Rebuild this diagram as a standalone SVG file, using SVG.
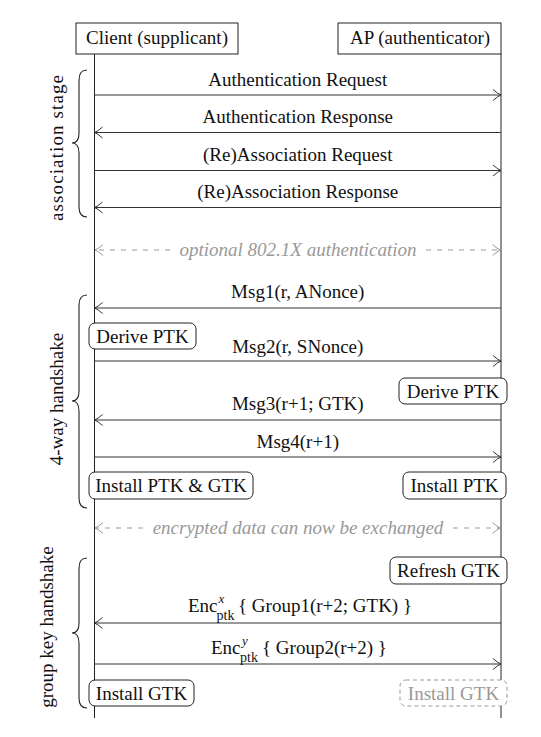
<svg xmlns="http://www.w3.org/2000/svg" width="541" height="737" viewBox="0 0 541 737">
<style>
text{font-family:"Liberation Serif","Times New Roman",serif;font-size:19px;fill:#111}
.lbl{text-anchor:middle}
.life{stroke:#222;stroke-width:1;fill:none}
.msg{stroke:#333;stroke-width:1;fill:none}
.dash{stroke:#999;stroke-width:1;fill:none;stroke-dasharray:5 6}
.box{fill:#fff;stroke:#222;stroke-width:1}
.gbox{fill:#fff;stroke:#999;stroke-width:1;stroke-dasharray:4 3}
.gray{fill:#999}
.it{font-style:italic}
.brace{stroke:#222;stroke-width:1.1;fill:none}
</style>
<defs>
<marker id="ah" markerUnits="userSpaceOnUse" markerWidth="12" markerHeight="14" viewBox="-10 -7 12 14" refX="0" refY="0" orient="auto" overflow="visible">
<path d="M-8,-5.5 Q-3,-1 0,0 Q-3,1 -8,5.5" fill="none" stroke="#333" stroke-width="1"/>
</marker>
<marker id="gah" markerUnits="userSpaceOnUse" markerWidth="12" markerHeight="14" viewBox="-10 -7 12 14" refX="0" refY="0" orient="auto" overflow="visible">
<path d="M-8,-5.5 Q-3,-1 0,0 Q-3,1 -8,5.5" fill="none" stroke="#999" stroke-width="1"/>
</marker>
</defs>
<rect width="541" height="737" fill="#fff"/>

<g id="lifelines">
<line class="life" x1="94.5" y1="54" x2="94.5" y2="718"/>
<line class="life" x1="501" y1="54" x2="501" y2="718"/>
</g>

<g id="client">
<rect class="box" x="76" y="23" width="162" height="31"/>
<text class="lbl" x="157" y="44">Client (supplicant)</text>
</g>
<g id="ap">
<rect class="box" x="338" y="23" width="163" height="31"/>
<text class="lbl" x="420" y="44">AP (authenticator)</text>
</g>

<g id="stages">
<path class="brace" d="M87,70 Q79,70 79,80 L79,133 Q79,143 72,143 Q79,143 79,153 L79,207 Q79,217 87,217"/>
<text class="lbl" transform="translate(63,148) rotate(-90)" textLength="146" lengthAdjust="spacing">association stage</text>
<path class="brace" d="M87,295 Q79,295 79,305 L79,391 Q79,401 72,401 Q79,401 79,411 L79,498 Q79,508 87,508"/>
<text class="lbl" transform="translate(63,399) rotate(-90)">4-way handshake</text>
<path class="brace" d="M87,558 Q79,558 79,568 L79,623 Q79,633 72,633 Q79,633 79,643 L79,698 Q79,708 87,708"/>
<text class="lbl" transform="translate(53,627) rotate(-90)">group key handshake</text>
</g>

<g id="connectors">
<line class="msg" x1="94.5" y1="95" x2="501" y2="95" marker-end="url(#ah)"/>
<text class="lbl" x="297.75" y="86">Authentication Request</text>
<line class="msg" x1="501" y1="132.5" x2="94.5" y2="132.5" marker-end="url(#ah)"/>
<text class="lbl" x="297.75" y="123">Authentication Response</text>
<line class="msg" x1="94.5" y1="170.5" x2="501" y2="170.5" marker-end="url(#ah)"/>
<text class="lbl" x="297.75" y="161">(Re)Association Request</text>
<line class="msg" x1="501" y1="207.5" x2="94.5" y2="207.5" marker-end="url(#ah)"/>
<text class="lbl" x="297.75" y="198">(Re)Association Response</text>

<line class="dash" x1="170" y1="250" x2="95" y2="250" marker-end="url(#gah)"/>
<line class="dash" x1="426" y1="250" x2="500.5" y2="250" marker-end="url(#gah)"/>
<text class="lbl it gray" x="298" y="256">optional 802.1X authentication</text>

<line class="msg" x1="501" y1="308" x2="94.5" y2="308" marker-end="url(#ah)"/>
<text class="lbl" x="297.75" y="298">Msg1(r, ANonce)</text>
<line class="msg" x1="94.5" y1="361" x2="501" y2="361" marker-end="url(#ah)"/>
<text class="lbl" x="297.75" y="353">Msg2(r, SNonce)</text>
<line class="msg" x1="501" y1="420" x2="94.5" y2="420" marker-end="url(#ah)"/>
<text class="lbl" x="297.75" y="410">Msg3(r+1; GTK)</text>
<line class="msg" x1="94.5" y1="457" x2="501" y2="457" marker-end="url(#ah)"/>
<text class="lbl" x="297.75" y="448">Msg4(r+1)</text>

<line class="dash" x1="143" y1="528" x2="95" y2="528" marker-end="url(#gah)"/>
<line class="dash" x1="453" y1="528" x2="500.5" y2="528" marker-end="url(#gah)"/>
<text class="lbl it gray" x="298" y="534">encrypted data can now be exchanged</text>

<line class="msg" x1="501" y1="623" x2="94.5" y2="623" marker-end="url(#ah)"/>
<text x="188" y="612">Enc<tspan class="it" x="218.5" y="603" font-size="13">x</tspan><tspan x="216.5" y="619.5" font-size="14">ptk</tspan><tspan x="238" y="612">{ Group1(r+2; GTK) }</tspan></text>
<line class="msg" x1="94.5" y1="664" x2="501" y2="664" marker-end="url(#ah)"/>
<text x="211" y="654">Enc<tspan class="it" x="242" y="645" font-size="13">y</tspan><tspan x="240" y="661.5" font-size="14">ptk</tspan><tspan x="262" y="654">{ Group2(r+2) }</tspan></text>
</g>

<g id="derive-client">
<rect class="box" x="89" y="323" width="107" height="26" rx="6"/>
<text class="lbl" x="142.5" y="343">Derive PTK</text>
</g>
<g id="derive-ap">
<rect class="box" x="399" y="378" width="108" height="26" rx="6"/>
<text class="lbl" x="453" y="398">Derive PTK</text>
</g>
<g id="install-client">
<rect class="box" x="89" y="472" width="164" height="27" rx="6"/>
<text class="lbl" x="171" y="492">Install PTK &amp; GTK</text>
</g>
<g id="install-ap">
<rect class="box" x="403" y="472" width="103" height="27" rx="6"/>
<text class="lbl" x="454.5" y="492">Install PTK</text>
</g>
<g id="refresh-ap">
<rect class="box" x="390" y="557" width="117" height="27" rx="6"/>
<text class="lbl" x="448.5" y="577">Refresh GTK</text>
</g>
<g id="installgtk-client">
<rect class="box" x="89" y="680" width="105" height="26" rx="6"/>
<text class="lbl" x="141.5" y="700">Install GTK</text>
</g>
<g id="installgtk-ap">
<rect class="gbox" x="400" y="680" width="107" height="26" rx="6"/>
<text class="lbl gray" x="453.5" y="700">Install GTK</text>
</g>
</svg>
